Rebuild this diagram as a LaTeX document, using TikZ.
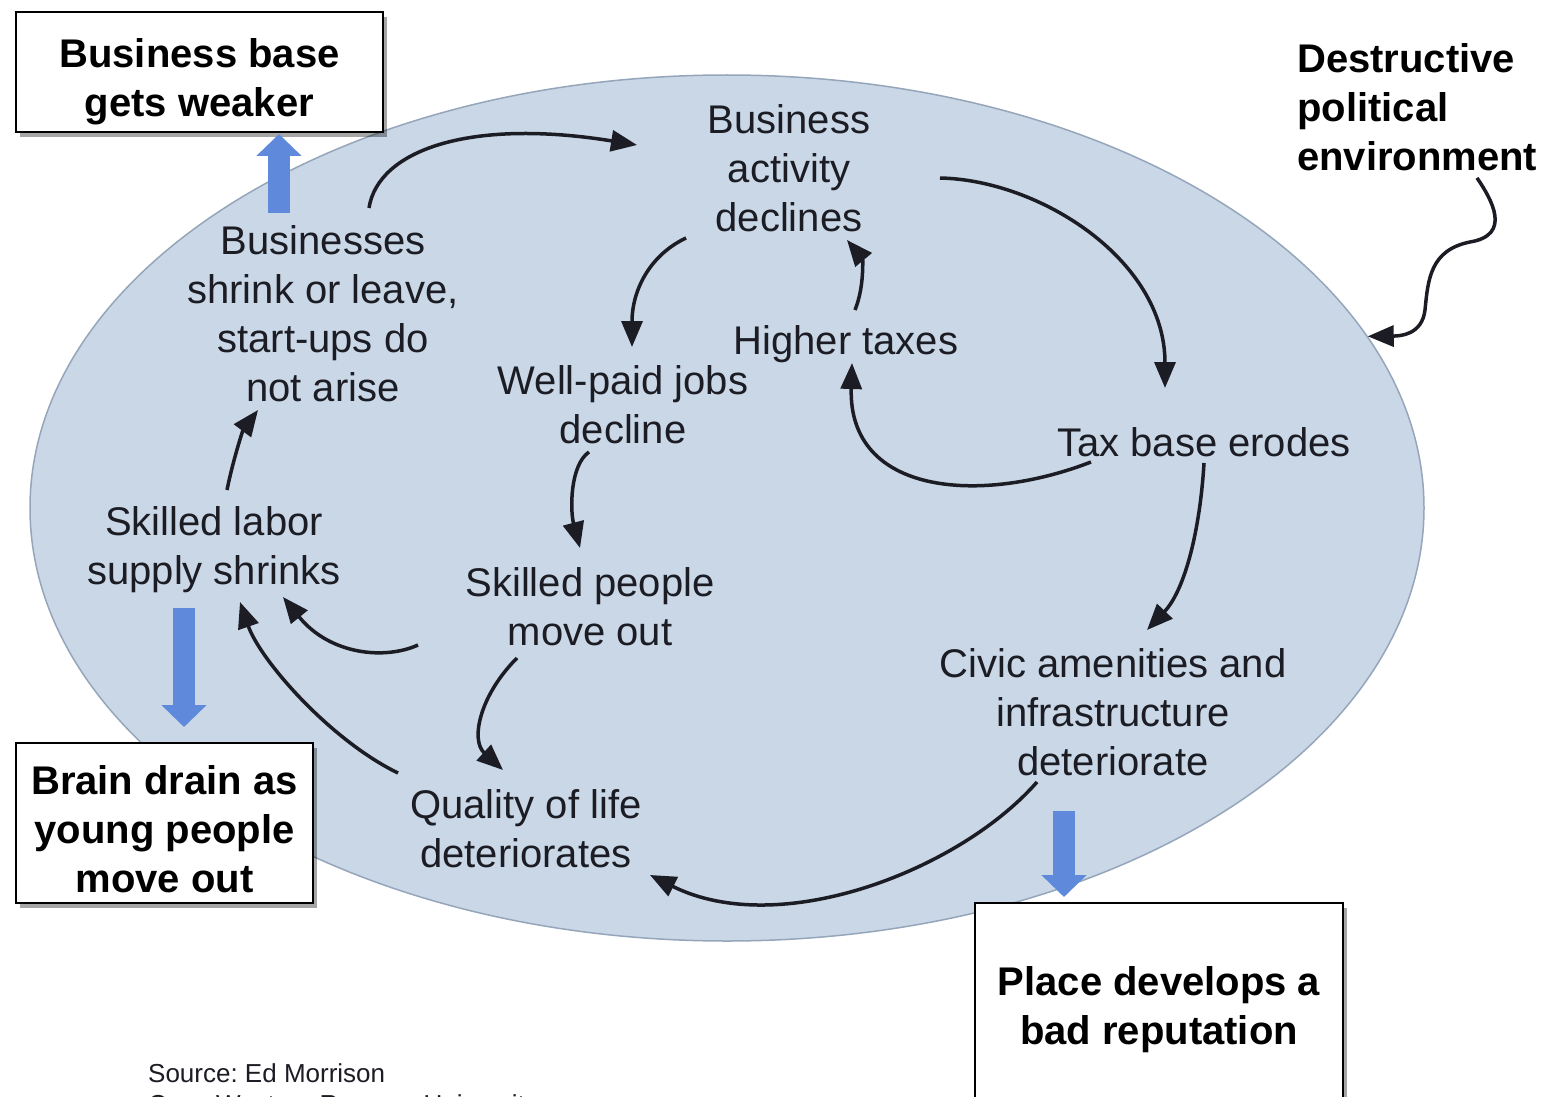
\documentclass[tikz,border=0pt]{standalone}
\usepackage{fontspec}
\setmainfont{Liberation Sans}
\usetikzlibrary{arrows.meta,shapes.geometric,shadows}
\definecolor{ellfill}{RGB}{201,215,230}
\definecolor{elledge}{RGB}{150,166,186}
\definecolor{bluearr}{RGB}{95,138,220}
\definecolor{txtc}{RGB}{28,28,36}
\frenchspacing
\begin{document}
\begin{tikzpicture}[x=1pt,y=-1pt,
  lbl/.style={align=center, inner sep=0pt, text=txtc, font=\fontsize{40}{49}\selectfont},
  boxshape/.style={draw=black, line width=2pt, fill=white, inner sep=0pt,
    drop shadow={shadow xshift=4pt, shadow yshift=-5pt, opacity=0.35, fill=black}},
  boxtxt/.style={align=center, inner sep=0pt, text=black, font=\bfseries\fontsize{40}{49}\selectfont},
  arr/.style={draw=txtc, line width=3.5pt, -{Triangle[length=26pt,width=21pt]}},
  blk/.style={draw=bluearr, line width=22pt, -{Triangle[length=22pt,width=44pt]}}]
\useasboundingbox (0,0) rectangle (1545,1097);
\clip (0,0) rectangle (1545,1097);
\fill[white] (0,0) rectangle (1545,1097);

% ellipse
\node[ellipse, draw=elledge, line width=1.5pt, fill=ellfill, minimum width=1394pt, minimum height=866pt, inner sep=0pt] (ell) at (727,508) {};

% boxes
\node[boxshape, minimum width=367pt, minimum height=120pt] (box1) at (199.5,72) {};
\node[boxtxt] (box1t) at (199.5,82) {Business base\\gets weaker};
\node[boxshape, minimum width=297pt, minimum height=160pt] (box2) at (164.5,823) {};
\node[boxtxt] (box2t) at (164.5,829) {Brain drain as\\young people\\move out};
\node[boxshape, minimum width=368pt, minimum height=208pt] (box3) at (1159,1007) {};
\node[boxtxt] (box3t) at (1159,1010) {Place develops a\\bad reputation};

% outside text
\node[boxtxt, align=left, anchor=west] (dpe) at (1297,107) {Destructive\\political\\environment};
\node[align=left, inner sep=0pt, text=txtc, font=\fontsize{26}{31}\selectfont, anchor=north west] (src) at (148,1063) {Source: Ed Morrison\\Case Western Reserve University};

% ellipse labels
\node[lbl] (bact) at (789,168) {Business\\activity\\declines};
\node[lbl] (bshr) at (323,314) {Businesses\\shrink or leave,\\start-ups do\\not arise};
\node[lbl] (htax) at (846,344) {Higher taxes};
\node[lbl] (wpj) at (623,405) {Well-paid jobs\\decline};
\node[lbl] (tbe) at (1204,442) {Tax base erodes};
\node[lbl] (sls) at (214,550) {Skilled labor\\supply shrinks};
\node[lbl] (spm) at (590,607) {Skilled people\\move out};
\node[lbl] (civ) at (1113,712) {Civic amenities and\\infrastructure\\deteriorate};
\node[lbl] (qol) at (526,829) {Quality of life\\deteriorates};

% blue block arrows
\draw[blk] ([shift={(-44,-13)}]bshr.north) -- ([shift={(79.5,1)}]box1.south);
\draw[blk] ([shift={(-30,15)}]sls.south) -- ([shift={(19.5,-15)}]box2.north);
\draw[blk] ([shift={(-49,35)}]civ.south) -- ([shift={(-95,-5)}]box3.north);

% causal arrows
\draw[arr] ([shift={(46,-106)}]bshr.center) .. controls (378,150) and (470,118) .. ([shift={(-152,-23)}]bact.center);
\draw[arr] ([shift={(151,10)}]bact.center) .. controls (1040,180) and (1165,260) .. ([shift={(-39,-54)}]tbe.center);
\draw[arr] ([shift={(-103,70)}]bact.center) .. controls (650,255) and (632,290) .. ([shift={(9,-58)}]wpj.center);
\draw[arr] ([shift={(9,-34)}]htax.center) .. controls (865,285) and (862,258) .. ([shift={(58,72)}]bact.center);
\draw[arr] ([shift={(-113,20)}]tbe.center) .. controls (980,505) and (848,495) .. ([shift={(6,19)}]htax.center);
\draw[arr] ([shift={(0,21)}]tbe.center) .. controls (1200,530) and (1185,590) .. ([shift={(34,-82)}]civ.center);
\draw[arr] ([shift={(-34,47)}]wpj.center) .. controls (570,465) and (570,510) .. ([shift={(-10,-59)}]spm.center);
\draw[arr] ([shift={(-73,51)}]spm.center) .. controls (480,695) and (470,740) .. ([shift={(-23,-59)}]qol.center);
\draw[arr] ([shift={(-76,70)}]civ.center) .. controls (960,870) and (780,940) .. ([shift={(124,46)}]qol.center);
\draw[arr] ([shift={(-128,-56)}]qol.center) .. controls (330,740) and (260,660) .. ([shift={(26,52)}]sls.center);
\draw[arr] ([shift={(-172,38)}]spm.center) .. controls (385,660) and (330,655) .. ([shift={(69,47)}]sls.center);
\draw[arr] ([shift={(13,-60)}]sls.center) .. controls (233,460) and (243,430) .. ([shift={(-65,96)}]bshr.center);
\draw[arr] ([shift={(180,7)}]dpe.south west) .. controls (1492,200) and (1512,235) .. (1470,242)
   .. controls (1430,250) and (1428,280) .. (1425,310)
   .. controls (1422,335) and (1400,336) .. (ell.15);
\end{tikzpicture}
\end{document}
